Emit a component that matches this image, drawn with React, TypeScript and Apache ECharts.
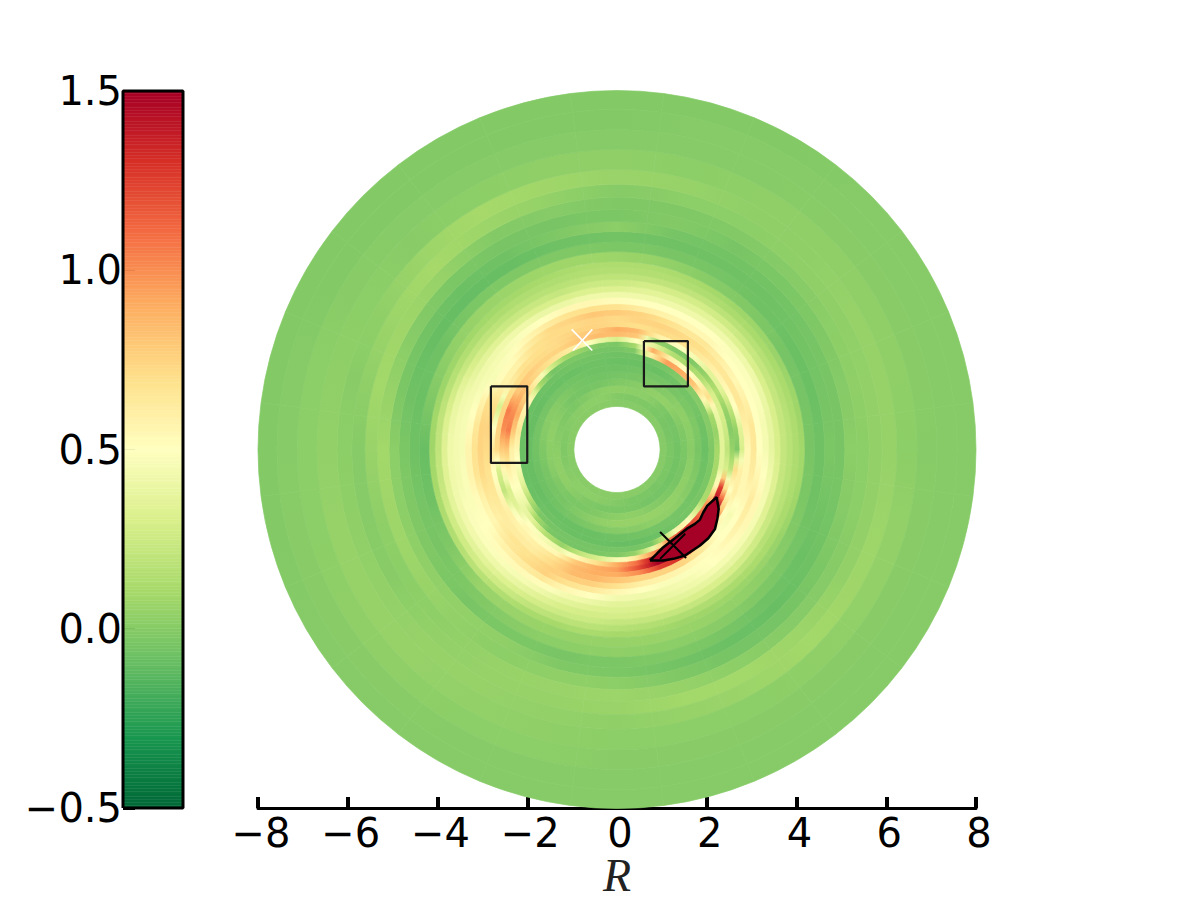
import React, { useEffect, useRef } from "react";
import * as echarts from "echarts";

// RdYlGn_r colormap over -0.5..1.5
const cmapStops = ["#006837","#1a9850","#66bd63","#a6d96a","#d9ef8b","#ffffbf","#fee08b","#fdae61","#f46d43","#d73027","#a50026"];
const vMin = -0.5, vMax = 1.5;

const innerEdges = [0.96,1.11,1.27,1.43,1.58,1.74,1.89,2.05,2.18];
const hotEdges = [2.18,2.30,2.41,2.52,2.63,2.74,2.85,2.99,3.12,3.25,3.39,3.52,3.65,3.79,3.92,4.06,4.19];
const outerEdges = [4.19,4.41,4.63,4.86,5.08,5.35,5.62,5.91,6.24,6.69,7.13,7.58,8.0];

// each row: one spoke (theta = index * step), values from inner to outer ring
const innerSpokes = [
[.0,-.03,-.06,-.03,.01,-.04,-.08,-.02],[.0,-.04,-.05,-.02,.02,-.02,-.07,.0],[.0,-.04,-.05,.01,.03,-.03,-.05,.0],[.0,-.03,-.02,.04,.0,-.04,-.06,.0],
[.0,-.02,.02,.03,-.02,-.05,-.08,-.05],[.0,-.02,.02,.0,-.04,-.06,-.08,-.07],[.0,-.01,.03,-.02,-.05,-.07,-.08,-.07],[.01,.02,.02,-.04,-.06,-.07,-.07,-.06],
[.01,.02,-.01,-.05,-.05,-.06,-.08,-.06],[.01,.01,-.03,-.04,-.02,-.05,-.08,-.07],[.01,.0,-.02,.01,.01,-.05,-.09,-.08],[.01,-.01,.0,.03,.0,-.05,-.09,-.08],
[.01,-.02,.02,.02,-.02,-.06,-.09,-.08],[.0,-.01,.03,.01,-.04,-.07,-.09,-.09],[.0,.01,.03,-.02,-.05,-.07,-.09,-.08],[.01,.02,.01,-.03,-.04,-.06,-.08,-.07],
[.01,.02,-.02,-.03,-.01,-.04,-.08,-.08],[.01,.01,-.03,-.01,.03,-.02,-.08,-.08],[.01,-.01,-.03,.02,.05,.0,-.07,-.09],[.01,-.03,-.03,.03,.05,.01,-.06,-.09],
[.01,-.03,-.05,.0,.05,.03,-.05,-.07],[.0,-.04,-.05,-.02,.04,.03,-.05,-.05],[.0,-.03,-.06,-.04,.03,.0,-.06,-.04],[.0,-.03,-.06,-.04,.02,-.02,-.07,-.03],
];
const hotSpokes = [
[.1,.35,.2,.05,-.02,.3,.55,.65,.5,.45,.38,.3,.22,.17,.13,.09],
[.05,.35,.25,.0,.05,.35,.6,.65,.5,.45,.38,.3,.22,.17,.13,.08],
[.1,.4,.3,.05,.2,.5,.65,.6,.5,.48,.4,.3,.22,.16,.12,.07],
[.55,.7,.3,.15,.35,.55,.65,.55,.5,.48,.42,.3,.22,.16,.11,.06],
[.8,.55,.15,.05,.35,.6,.65,.6,.5,.48,.42,.32,.24,.17,.11,.07],
[.9,.5,.1,-.02,.45,.65,.7,.65,.55,.5,.42,.35,.26,.18,.12,.08],
[.95,.6,.15,-.02,.5,.7,.72,.65,.55,.5,.42,.35,.28,.2,.14,.1],
[.6,.9,.35,.05,.6,.72,.75,.7,.58,.5,.42,.35,.28,.2,.15,.12],
[-.02,.1,.5,.8,.85,.7,.75,.75,.62,.5,.42,.35,.28,.2,.15,.13],
[-.05,-.03,.3,.85,.9,.72,.72,.78,.68,.52,.42,.32,.25,.19,.15,.13],
[-.05,-.02,.4,.85,.8,.75,.75,.8,.7,.55,.42,.32,.25,.19,.15,.13],
[-.03,.05,.6,.8,.78,.75,.72,.75,.68,.55,.4,.3,.22,.17,.14,.11],
[-.03,.1,.65,.75,.72,.72,.72,.72,.62,.5,.4,.3,.24,.17,.14,.1],
[-.05,.3,.7,.75,.72,.7,.68,.62,.55,.48,.42,.32,.24,.18,.13,.09],
[.1,.6,.75,.78,.72,.68,.58,.52,.48,.45,.42,.34,.26,.2,.14,.09],
[.55,.75,.85,.8,.7,.6,.58,.52,.46,.45,.42,.36,.3,.22,.15,.08],
[.6,.9,1.0,1.05,.75,.3,.7,.7,.58,.47,.44,.42,.37,.27,.17,.07],
[.65,.8,1.05,1.0,.75,.5,.75,.75,.65,.52,.46,.44,.4,.32,.2,.09],
[.55,.6,.8,.78,.72,.65,.72,.75,.68,.57,.46,.44,.42,.33,.2,.08],
[.45,.55,.6,.55,.3,.5,.68,.72,.67,.57,.47,.44,.42,.34,.22,.1],
[.35,.5,.5,.3,.2,.55,.65,.65,.58,.52,.47,.47,.43,.36,.26,.13],
[.15,.4,.4,.35,.45,.6,.62,.6,.55,.5,.5,.48,.43,.36,.26,.15],
[-.03,.1,.35,.5,.55,.58,.62,.66,.64,.58,.52,.48,.42,.35,.28,.18],
[-.05,-.03,.15,.45,.52,.6,.62,.68,.7,.62,.54,.46,.4,.32,.25,.15],
[-.05,-.05,.05,.4,.55,.68,.72,.76,.76,.65,.52,.43,.35,.28,.2,.12],
[-.05,-.05,.2,.55,.8,.85,.85,.78,.68,.55,.44,.36,.3,.25,.18,.1],
[-.05,-.03,.3,.7,.9,.9,.86,.76,.64,.5,.4,.33,.28,.25,.18,.12],
[-.05,-.02,.45,.9,.95,.9,.8,.68,.55,.43,.35,.31,.28,.22,.16,.1],
[-.05,.05,.65,1.1,1.2,1.0,.75,.6,.5,.42,.36,.32,.28,.22,.15,.1],
[-.03,.4,1.0,1.5,1.5,1.25,.75,.58,.47,.43,.4,.35,.3,.22,.14,.08],
[.25,1.05,1.5,1.5,1.5,1.3,.75,.56,.48,.45,.42,.37,.3,.22,.14,.08],
[.6,1.3,1.5,1.5,1.5,1.05,.65,.52,.5,.5,.45,.38,.3,.2,.12,.07],
[.35,1.15,1.5,1.5,1.3,.6,.5,.5,.55,.52,.45,.38,.28,.18,.12,.06],
[.12,.95,1.5,1.5,.8,.5,.45,.5,.6,.55,.45,.35,.25,.16,.11,.06],
[.1,.55,1.25,.7,.5,.6,.55,.55,.62,.55,.45,.33,.23,.17,.12,.08],
[.1,.35,.3,.2,.7,.6,.55,.62,.55,.5,.42,.33,.22,.17,.13,.09],
];
const outerSpokes = [
[-.04,-.07,-.03,-.04,.02,.02,.04,.05,.02,.0,.0,.0],[-.05,-.08,-.05,-.04,.0,.03,.04,.05,.03,.01,.0,.0],[-.05,-.08,-.06,-.05,-.02,.02,.03,.05,.03,.01,.0,.0],
[-.02,-.07,-.07,-.06,-.03,.0,.03,.03,.03,.01,.0,.0],[.0,-.05,-.07,-.06,-.04,-.01,.02,.03,.03,.0,.0,-.01],[.04,-.04,-.07,-.05,-.01,-.02,.02,.05,.02,.0,.0,-.01],
[.07,-.03,-.06,.02,-.03,-.02,.0,.06,.03,.0,-.01,-.01],[.08,-.02,-.07,-.02,-.04,.0,.04,.08,.03,.0,-.01,-.01],[.07,-.02,-.09,-.07,-.04,-.01,.07,.1,.02,.0,-.01,-.01],
[.06,-.03,-.1,-.08,-.03,.05,.1,.07,.01,.0,-.01,-.01],[.03,-.07,-.09,-.06,.0,.08,.07,.03,.02,.01,-.01,-.01],[-.02,-.08,-.07,-.03,.05,.09,.03,.01,.03,.02,.0,-.01],
[-.09,-.07,-.03,.02,.09,.06,.0,.02,.04,.02,.0,-.01],[-.07,-.05,-.02,.02,.08,.03,.0,.03,.05,.02,.01,-.01],[-.02,-.04,-.02,.03,.07,.02,.01,.04,.05,.03,.01,.0],
[.06,-.02,-.04,.04,.04,.03,.04,.05,.05,.03,.01,.0],[.06,.01,-.03,.03,.02,.05,.05,.05,.04,.02,.0,.0],[.05,.02,-.04,-.02,.03,.06,.05,.04,.03,.02,.0,.0],
[.05,.03,-.03,-.03,.02,.07,.06,.03,.02,.01,.0,.0],[.06,.02,-.02,-.06,-.02,.05,.09,.05,.02,.01,.0,.0],[.05,.01,-.04,-.08,-.05,.02,.09,.07,.02,.01,.0,.0],
[.03,-.02,-.07,-.09,-.05,.0,.07,.09,.03,.01,.0,.0],[.0,-.05,-.08,-.07,-.03,.0,.04,.08,.04,.01,.0,.0],[-.03,-.07,-.06,-.05,.0,.02,.04,.07,.04,.01,.0,.0],
];

const contour = [[.735,-2.477],[.884,-2.329],[1.032,-2.18],[1.292,-1.98],[1.552,-1.772],[1.738,-1.66],[1.85,-1.564],[1.924,-1.40],[2.013,-1.252],[2.221,-1.066],[2.266,-1.326],[2.236,-1.549],[2.184,-1.772],[2.035,-1.98],[1.85,-2.143],[1.515,-2.366],[1.255,-2.44],[1.032,-2.477],[.735,-2.477]];
const boxLeft = [[-2.81,1.41],[-2.0,1.41],[-2.0,-.30],[-2.81,-.30],[-2.81,1.41]];
const boxTop = [[.6,2.42],[1.58,2.42],[1.58,1.41],[.6,1.41],[.6,2.42]];
const whiteCrossA = [[-1.01,2.68],[-.55,2.21]];
const whiteCrossB = [[-.55,2.68],[-.98,2.21]];
const blackCrossA = [[.96,-1.84],[1.54,-2.42]];
const blackCrossB = [[.96,-2.44],[1.52,-1.88]];
const barFrame = [[0,-.5],[1,-.5],[1,1.5],[0,1.5],[0,-.5]];
const FONT = "DejaVu Sans";

function colorOf(v: number) {
  const t = Math.min(1, Math.max(0, (v - vMin) / (vMax - vMin)));
  return echarts.color.lerp(t, cmapStops);
}
function cellsOf(spokes: number[][], edges: number[]) {
  const n = spokes.length;
  const step = 360 / n;
  const out: number[][] = [];
  spokes.forEach((vals, i) => vals.forEach((v, j) => {
    out.push([i * step - step / 2, i * step + step / 2, edges[j], edges[j + 1], v, spokes[(i + n - 1) % n][j], spokes[(i + 1) % n][j]]);
  }));
  return out;
}
const diskCells = [...cellsOf(innerSpokes, innerEdges), ...cellsOf(hotSpokes, hotEdges), ...cellsOf(outerSpokes, outerEdges)];
const barLevels = Array.from({ length: 256 }, (_, i) => vMin + (i + 0.5) * (vMax - vMin) / 256);

const fmt = (v: number, d: number) => (v < 0 ? "\u2212" : "") + Math.abs(v).toFixed(d);
const lineS = (data: number[][], color: string, width: number, xi = 0) => ({
  type: "line", data, xAxisIndex: xi, yAxisIndex: xi, showSymbol: false, symbol: "none", clip: false, z: 5,
  lineStyle: { color, width }, silent: true,
});

export default function App() {
  const ref = useRef<HTMLDivElement>(null);
  useEffect(() => {
    const chart = echarts.init(ref.current!, null, { renderer: "svg" });
    chart.setOption({
      animation: false,
      backgroundColor: "#fff",
      grid: [
        { left: 258, top: 91, width: 718, height: 717, outerBoundsMode: "none" },
        { left: 123, top: 91, width: 60, height: 717, outerBoundsMode: "none" },
      ],
      xAxis: [
        {
          gridIndex: 0, type: "value", min: -8, max: 8, interval: 2,
          axisLine: { show: true, onZero: false, lineStyle: { color: "#000", width: 3 } },
          axisTick: { show: true, inside: true, length: 11, lineStyle: { color: "#000", width: 4 } },
          splitLine: { show: false },
          axisLabel: { fontFamily: FONT, fontSize: 40, color: "#000", margin: 5, padding: [0, 0, 0, 6], formatter: (v: number) => fmt(v, 0), showMinLabel: true, showMaxLabel: true },
          name: "R", nameLocation: "middle", nameGap: 44, nameMoveOverlap: false,
          nameTextStyle: { fontFamily: "Liberation Serif", fontStyle: "italic", fontSize: 46, color: "#222" },
        },
        { gridIndex: 1, type: "value", min: 0, max: 1, show: false },
      ],
      yAxis: [
        { gridIndex: 0, type: "value", min: -8, max: 8, show: false },
        {
          gridIndex: 1, type: "value", min: -0.5, max: 1.5, interval: 0.5,
          axisLine: { show: false },
          axisTick: { show: true, inside: true, length: 12, lineStyle: { color: "#000", width: 3 } },
          splitLine: { show: false },
          axisLabel: { fontFamily: FONT, fontSize: 40, color: "#000", margin: 1, formatter: (v: number) => fmt(v, 1), showMinLabel: true, showMaxLabel: true },
        },
      ],
      series: [
        {
          type: "custom", xAxisIndex: 0, yAxisIndex: 0, clip: false, silent: true, z: 1,
          data: diskCells,
          renderItem: (_: any, api: any) => {
            const c = api.coord([0, 0]);
            const k = api.coord([1, 0])[0] - c[0];
            const t0 = api.value(0), t1 = api.value(1), r0 = api.value(2), r1 = api.value(3), v = api.value(4);
            const rm = (r0 + r1) / 2 * k;
            const a0 = t0 * Math.PI / 180, a1 = t1 * Math.PI / 180;
            const fill = {
              type: "linear", global: true,
              x: c[0] + rm * Math.cos(a0), y: c[1] - rm * Math.sin(a0),
              x2: c[0] + rm * Math.cos(a1), y2: c[1] - rm * Math.sin(a1),
              colorStops: [
                { offset: 0, color: colorOf((api.value(5) + v) / 2) },
                { offset: 0.5, color: colorOf(v) },
                { offset: 1, color: colorOf((api.value(6) + v) / 2) },
              ],
            };
            return {
              type: "sector",
              shape: { cx: c[0], cy: c[1], r0: r0 * k, r: r1 * k, startAngle: -a1, endAngle: -a0, clockwise: true },
              style: { fill, stroke: fill, lineWidth: 0.7 },
            };
          },
        },
        {
          type: "custom", xAxisIndex: 0, yAxisIndex: 0, clip: false, silent: true, z: 2,
          data: contour,
          renderItem: (p: any, api: any) => {
            if (p.dataIndex !== 0) return null;
            return { type: "polygon", shape: { points: contour.map((q) => api.coord(q)) }, style: { fill: colorOf(1.5) } };
          },
        },
        lineS(contour, "#000", 2.5),
        lineS(boxLeft, "#1a1a1a", 2.2),
        lineS(boxTop, "#1a1a1a", 2.2),
        lineS(whiteCrossA, "#fff", 1.6),
        lineS(whiteCrossB, "#fff", 1.6),
        lineS(blackCrossA, "#000", 2),
        lineS(blackCrossB, "#000", 2),
        {
          type: "custom", xAxisIndex: 1, yAxisIndex: 1, clip: false, silent: true, z: 1,
          data: barLevels.map((v) => [0, v]),
          renderItem: (_: any, api: any) => {
            const v = api.value(1);
            const d = (vMax - vMin) / 256 / 2;
            const a = api.coord([0, v + d]);
            const b = api.coord([1, v - d]);
            const col = colorOf(v);
            return { type: "rect", shape: { x: a[0], y: a[1], width: b[0] - a[0], height: b[1] - a[1] }, style: { fill: col, stroke: col, lineWidth: 0.5 } };
          },
        },
        lineS(barFrame, "#000", 3, 1),
      ],
    });
    return () => chart.dispose();
  }, []);
  return <div ref={ref} style={{ position: "absolute", left: 0, top: 0, width: 1200, height: 902 }} />;
}
